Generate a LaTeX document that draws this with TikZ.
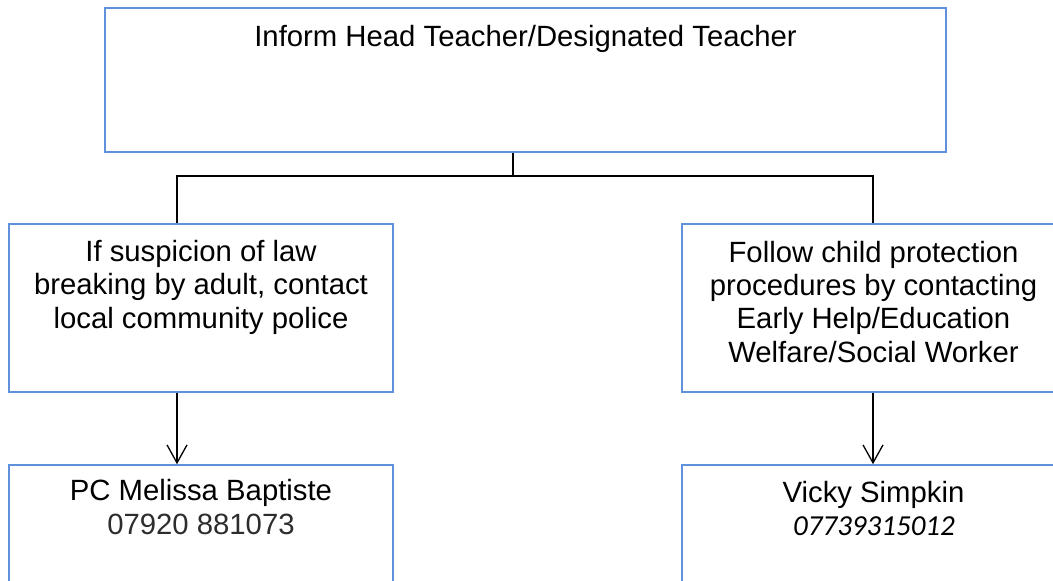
\documentclass[tikz,border=0pt]{standalone}
\usepackage{fontspec}
\setmainfont{Liberation Sans}
\newfontfamily\carlito{Carlito}
\usetikzlibrary{arrows.meta}
\definecolor{boxblue}{RGB}{95,145,220}
\definecolor{numgray}{RGB}{45,45,45}
\tikzset{
  box/.style={draw=boxblue, line width=1.6pt, rectangle, inner sep=0pt},
  txt/.style={align=center, inner sep=0pt, anchor=base, font=\fontsize{29.3}{33.3}\selectfont},
  conn/.style={draw=black, line width=1.3pt},
  arr/.style={conn, -{Straight Barb[length=18pt,width=20pt]}}
}
\begin{document}
\begin{tikzpicture}[x=1pt,y=-1pt]
\useasboundingbox (0,0) rectangle (1053,581);
\clip (0,0) rectangle (1053,581);
% boxes
\node[box, minimum width=841pt, minimum height=144pt] (top) at (525.5,80) {};
\node[box, minimum width=384pt, minimum height=168pt] (lmid) at (201,308) {};
\node[box, minimum width=382pt, minimum height=168pt] (rmid) at (873,308) {};
\node[box, minimum width=384pt, minimum height=168pt] (lbot) at (201,549) {};
\node[box, minimum width=382pt, minimum height=168pt] (rbot) at (873,549) {};
% texts (base anchor = baseline of last line)
\node[txt] (ttop) at (525.5,46) {Inform Head Teacher/Designated Teacher};
\node[txt] (tlmid) at (201,328) {If suspicion of law\\breaking by adult, contact\\local community police};
\node[txt] (trmid) at (873.5,362) {Follow child protection\\procedures by contacting\\Early Help/Education\\Welfare/Social Worker};
\node[txt] (tlbot) at (201,534) {PC Melissa Baptiste\\\textcolor{numgray}{07920 881073}};
\node[txt] (trbot) at (873.5,502) {Vicky Simpkin};
\node[txt, font=\carlito\itshape\fontsize{29}{33}\selectfont] (trnum) at (874,535) {07739315012};
% connector coordinates
\coordinate (cT) at (513,0);
\coordinate (cL) at (177,0);
\coordinate (cR) at (873,0);
\coordinate (bus) at (0,176);
% connectors
\draw[conn] (top.south -| cT) -- (cT |- bus);
\draw[conn] (lmid.north -| cL) -- (cL |- bus) -- (cR |- bus) -- (rmid.north -| cR);
\draw[arr] (lmid.south -| cL) -- (lbot.north -| cL);
\draw[arr] (rmid.south -| cR) -- (rbot.north -| cR);
\end{tikzpicture}
\end{document}
